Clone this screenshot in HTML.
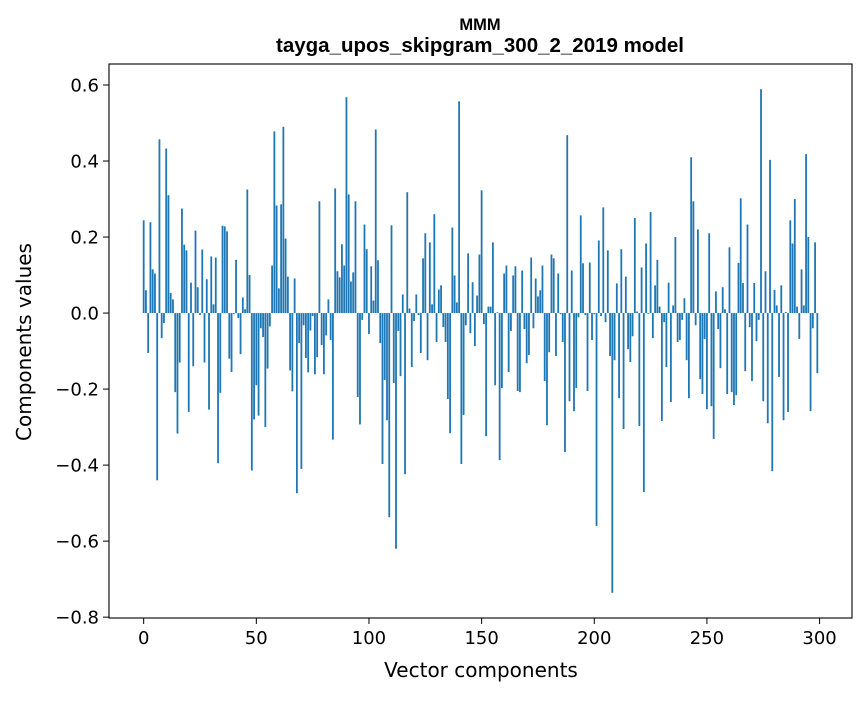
<!DOCTYPE html>
<html><head><meta charset="utf-8"><style>
body{margin:0;background:#fff;}
svg text{font-family:"DejaVu Sans","Liberation Sans",sans-serif;fill:#000;}
svg text.ttl{font-family:"Liberation Sans","DejaVu Sans",sans-serif;}
</style></head><body>
<svg id="chart" width="867" height="696" viewBox="0 0 867 696" xmlns="http://www.w3.org/2000/svg">
<rect width="867" height="696" fill="#fff"/>
<text class="ttl" x="480" y="30" text-anchor="middle" font-size="16.5" font-weight="bold">МММ</text>
<text class="ttl" x="480" y="52" text-anchor="middle" font-size="20.5" font-weight="bold">tayga_upos_skipgram_300_2_2019 model</text>
<g id="bars"></g>
<g id="axes"></g>
<text x="481" y="677" text-anchor="middle" font-size="20">Vector components</text>
<text transform="translate(31,342) rotate(-90)" text-anchor="middle" font-size="20">Components values</text>
</svg>
<script>
const values = [0.244,0.06,-0.105,0.239,0.115,0.104,-0.44,0.457,-0.066,-0.026,
0.433,0.31,0.053,0.036,-0.208,-0.317,-0.13,0.275,0.18,0.165,
-0.26,0.08,-0.14,0.217,0.068,-0.005,0.167,-0.13,0.089,-0.254,
0.149,0.023,0.146,-0.395,-0.21,0.23,0.228,0.215,-0.12,-0.155,
-0.003,0.14,-0.013,-0.108,0.041,0.01,0.325,0.1,-0.414,-0.28,
-0.19,-0.27,-0.04,-0.063,-0.3,-0.146,-0.035,0.125,0.478,0.283,
0.065,0.286,0.49,0.196,0.096,-0.151,-0.206,0.091,-0.474,-0.079,
-0.41,-0.032,-0.118,-0.156,-0.046,-0.008,-0.161,-0.116,0.294,-0.084,
-0.161,-0.059,0.036,-0.071,-0.333,0.328,0.11,0.094,0.181,0.125,
0.568,0.312,0.083,0.107,0.294,-0.221,-0.293,-0.018,0.233,0.168,
-0.055,0.123,0.033,0.483,0.139,-0.079,-0.397,-0.176,-0.282,-0.537,
0.231,-0.184,-0.62,-0.047,-0.166,0.049,-0.424,0.318,0.012,-0.142,
-0.021,0.049,-0.005,-0.105,0.144,0.21,-0.124,0.186,0.023,0.26,
-0.076,0.062,0.073,-0.037,-0.076,-0.226,-0.316,0.225,0.099,0.028,
0.557,-0.397,-0.268,-0.032,0.157,-0.053,0.081,-0.087,0.046,0.154,
0.323,-0.029,-0.324,0.017,0.017,0.186,-0.19,0.002,-0.387,-0.197,
0.104,0.125,-0.155,-0.047,0.099,0.123,-0.205,-0.208,0.112,-0.042,
-0.132,-0.11,0.146,-0.04,0.091,0.044,0.06,0.125,-0.179,-0.295,
-0.103,0.154,0.144,-0.113,0.104,-0.003,-0.076,-0.366,0.468,-0.232,
0.112,-0.258,-0.197,-0.011,0.257,0.131,-0.005,-0.205,0.133,-0.071,
-0.003,-0.56,0.191,-0.008,0.278,-0.024,0.165,-0.113,-0.736,-0.124,
0.078,-0.224,0.168,-0.305,0.096,-0.095,-0.129,-0.061,0.25,0.004,
-0.297,0.12,-0.471,0.183,-0.002,0.266,-0.066,0.073,0.14,0.017,
-0.284,-0.024,-0.142,0.08,-0.234,0.02,0.2,-0.076,-0.071,-0.018,
0.039,-0.124,-0.224,0.41,0.294,-0.032,0.22,-0.174,-0.213,-0.068,
-0.253,0.21,-0.245,-0.331,0.057,-0.042,-0.145,0.068,0.01,-0.213,
0.173,-0.208,-0.242,-0.216,0.132,0.302,0.079,-0.153,0.233,-0.037,
-0.179,0.079,-0.074,-0.018,0.589,-0.232,0.11,-0.29,0.403,-0.416,
0.061,0.02,-0.168,0.073,-0.282,0.003,-0.26,0.244,0.183,0.3,
0.017,-0.068,0.115,0.02,0.418,0.2,-0.258,-0.04,0.186,-0.158];
const xTicks = [0,50,100,150,200,250,300];
const yTicks = [-0.8,-0.6,-0.4,-0.2,0.0,0.2,0.4,0.6];
const yTickLabels = ["\u22120.8","\u22120.6","\u22120.4","\u22120.2","0.0","0.2","0.4","0.6"];

const L=109,R=852,T=64,B=618;
const n=values.length;
const xmin=-0.4-0.05*(n-1+0.8), xmax=n-1+0.4+0.05*(n-1+0.8);
const vmax=Math.max(...values), vmin=Math.min(...values);
const ymax=vmax+0.05*(vmax-vmin), ymin=vmin-0.05*(vmax-vmin);
const xs=v=>L+(v-xmin)/(xmax-xmin)*(R-L);
const ys=v=>B-(v-ymin)/(ymax-ymin)*(B-T);
const NS="http://www.w3.org/2000/svg";
const bars=document.getElementById('bars');
values.forEach((v,i)=>{
  const r=document.createElementNS(NS,'rect');
  const x0=xs(i-0.4),x1=xs(i+0.4);
  const y0=ys(Math.max(v,0)),y1=ys(Math.min(v,0));
  r.setAttribute('x',x0);r.setAttribute('width',x1-x0);
  r.setAttribute('y',y0);r.setAttribute('height',Math.max(y1-y0,0.3));
  r.setAttribute('fill','#1f77b4');
  
  
  bars.appendChild(r);
});
const ax=document.getElementById('axes');
const frame=document.createElementNS(NS,'rect');
frame.setAttribute('x',L);frame.setAttribute('y',T);frame.setAttribute('width',R-L);frame.setAttribute('height',B-T);
frame.setAttribute('fill','none');frame.setAttribute('stroke','#000');frame.setAttribute('stroke-width','1.1');


ax.appendChild(frame);
xTicks.forEach(t=>{
  const x=xs(t);
  const l=document.createElementNS(NS,'line');
  l.setAttribute('x1',x);l.setAttribute('x2',x);l.setAttribute('y1',B);l.setAttribute('y2',B+6);l.setAttribute('stroke','#000');
  
  
  ax.appendChild(l);
  const tx=document.createElementNS(NS,'text');
  tx.setAttribute('x',x);tx.setAttribute('y',B+26);tx.setAttribute('text-anchor','middle');tx.setAttribute('font-size','18');
  tx.textContent=t;
  
  
  ax.appendChild(tx);
});
yTicks.forEach((t,k)=>{
  const y=ys(t);
  const l=document.createElementNS(NS,'line');
  l.setAttribute('x1',L-6);l.setAttribute('x2',L);l.setAttribute('y1',y);l.setAttribute('y2',y);l.setAttribute('stroke','#000');
  
  
  ax.appendChild(l);
  const tx=document.createElementNS(NS,'text');
  tx.setAttribute('x',L-10);tx.setAttribute('y',y+6.5);tx.setAttribute('text-anchor','end');tx.setAttribute('font-size','18');
  tx.textContent=yTickLabels[k];
  
  
  ax.appendChild(tx);
});
</script>
</body></html>
